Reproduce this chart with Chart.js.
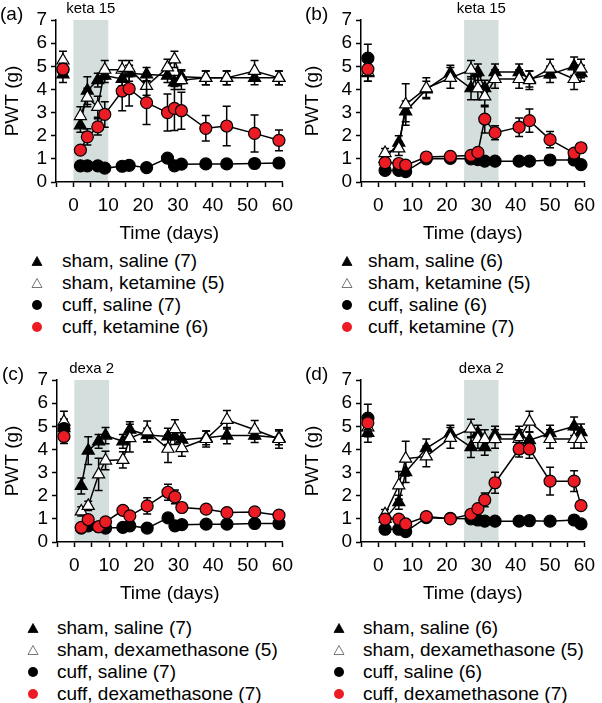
<!DOCTYPE html>
<html>
<head>
<meta charset="utf-8">
<script src="https://cdn.jsdelivr.net/npm/chart.js@4.4.1/dist/chart.umd.min.js"></script>
<style>
  body { margin: 0; width: 602px; height: 703px; background: #fff; position: relative; overflow: hidden;
         font-family: "Liberation Sans", Arial, sans-serif; color: #000; }
  .panel { position: absolute; }
  .legend { position: absolute; font-size: 19px; line-height: 22px; white-space: nowrap; }
  .legend .item { position: relative; height: 22px; }
  .legend svg { position: absolute; top: 5px; }
</style>
</head>
<body>
<canvas class="panel" id="chartA" width="300" height="245" style="left:0;top:0"></canvas>
<canvas class="panel" id="chartB" width="302" height="245" style="left:300px;top:0"></canvas>
<canvas class="panel" id="chartC" width="300" height="245" style="left:0;top:360px"></canvas>
<canvas class="panel" id="chartD" width="302" height="245" style="left:300px;top:360px"></canvas>
<div class="legend" id="legendA" style="left:31px;top:250px"></div>
<div class="legend" id="legendB" style="left:341px;top:250px"></div>
<div class="legend" id="legendC" style="left:27px;top:617px"></div>
<div class="legend" id="legendD" style="left:333px;top:617px"></div>
<script>
// ---- data ----
const daysAC = [-3, 2, 4, 7, 9, 14, 16, 21, 27, 29, 31, 38, 44, 52, 59];
const daysBD = [-3, 2, 6, 8, 14, 21, 27, 29, 31, 34, 41, 44, 50, 57, 59];
const xTickLabels = [0, 10, 20, 30, 40, 50, 60];
const yTickLabels = [0, 1, 2, 3, 4, 5, 6, 7];

// (a) keta 15, days 0-10
const shamSalA = [4.65, 2.45, 3.95, 4.4, 4.6, 4.45, 4.7, 4.65, 4.6, 4.3, 4.55, 4.5, 4.5, 4.5, 4.5];
const shamSalAErr = [0.35, 0.3, 0.6, 0.3, 0.3, 0.3, 0.35, 0.3, 0.3, 0.3, 0.3, 0.3, 0.3, 0.3, 0.3];
const shamKetA = [5.25, 2.85, 3.65, 3.25, 4.85, 4.85, 4.9, 4.15, 4.95, 5.3, 4.4, 4.5, 4.5, 4.8, 4.5];
const shamKetAErr = [0.4, 0.4, 0.4, 0.45, 0.4, 0.4, 0.35, 0.4, 0.35, 0.35, 0.4, 0.3, 0.3, 0.45, 0.3];
const cuffSalA = [4.85, 0.7, 0.7, 0.7, 0.6, 0.68, 0.72, 0.62, 1.03, 0.7, 0.77, 0.78, 0.78, 0.8, 0.82];
const cuffSalAErr = [0.2, 0.08, 0.08, 0.08, 0.08, 0.08, 0.08, 0.08, 0.1, 0.08, 0.08, 0.08, 0.08, 0.08, 0.08];
const cuffKetA = [4.88, 1.38, 1.95, 2.38, 2.92, 3.93, 4.03, 3.43, 3.0, 3.18, 3.08, 2.32, 2.42, 2.1, 1.8];
const cuffKetAErr = [0.25, 0.12, 0.35, 0.35, 0.55, 0.85, 0.75, 0.95, 0.8, 0.95, 0.8, 0.55, 0.85, 0.8, 0.45];

// (b) keta 15, days 25-35
const shamSalB = [4.7, 1.0, 1.7, 3.05, 4.0, 4.7, 4.05, 4.75, 4.05, 4.75, 4.75, 4.45, 4.65, 5.0, 4.7];
const shamSalBErr = [0.35, 0.2, 0.3, 0.45, 0.35, 0.35, 0.5, 0.35, 0.35, 0.35, 0.35, 0.35, 0.35, 0.4, 0.35];
const shamKetB = [4.75, 1.25, 1.45, 3.35, 4.05, 4.5, 4.85, 4.05, 3.7, 4.45, 4.45, 4.4, 4.9, 4.45, 4.9];
const shamKetBErr = [0.4, 0.2, 0.3, 0.9, 0.45, 0.45, 0.4, 0.5, 0.45, 0.4, 0.4, 0.4, 0.4, 0.45, 0.4];
const cuffSalB = [5.35, 0.5, 0.5, 0.45, 1.0, 1.02, 1.0, 0.97, 0.9, 0.9, 0.9, 0.9, 0.95, 0.95, 0.75];
const cuffSalBErr = [0.6, 0.1, 0.1, 0.1, 0.08, 0.08, 0.08, 0.08, 0.08, 0.08, 0.08, 0.08, 0.08, 0.08, 0.08];
const cuffKetB = [4.88, 0.84, 0.8, 0.73, 1.08, 1.11, 1.15, 1.28, 2.72, 2.13, 2.37, 2.65, 1.83, 1.25, 1.48];
const cuffKetBErr = [0.3, 0.1, 0.1, 0.1, 0.1, 0.1, 0.1, 0.15, 0.6, 0.3, 0.4, 0.5, 0.35, 0.12, 0.12];

// (c) dexa 2, days 0-10
const shamSalC = [4.92, 2.42, 3.95, 4.35, 4.6, 4.35, 4.85, 4.62, 4.56, 4.56, 4.42, 4.5, 4.6, 4.6, 4.5];
const shamSalCErr = [0.4, 0.35, 0.6, 0.3, 0.35, 0.3, 0.35, 0.3, 0.35, 0.35, 0.3, 0.3, 0.35, 0.3, 0.3];
const shamDexC = [5.2, 1.32, 1.56, 2.92, 3.52, 3.55, 4.49, 4.78, 4.03, 4.88, 4.06, 4.45, 5.28, 4.85, 4.45];
const shamDexCErr = [0.45, 0.2, 0.2, 0.7, 0.4, 0.35, 0.6, 0.45, 0.6, 0.4, 0.35, 0.35, 0.4, 0.4, 0.4];
const cuffSalC = [4.9, 0.6, 0.7, 0.66, 0.6, 0.63, 0.7, 0.6, 1.04, 0.7, 0.75, 0.77, 0.77, 0.8, 0.8];
const cuffSalCErr = [0.2, 0.08, 0.08, 0.08, 0.08, 0.08, 0.08, 0.08, 0.1, 0.08, 0.08, 0.08, 0.08, 0.08, 0.08];
const cuffDexC = [4.56, 0.63, 0.97, 0.66, 0.87, 1.37, 1.13, 1.56, 2.15, 1.95, 1.49, 1.42, 1.27, 1.3, 1.16];
const cuffDexCErr = [0.3, 0.1, 0.1, 0.1, 0.1, 0.12, 0.12, 0.35, 0.35, 0.3, 0.12, 0.1, 0.1, 0.1, 0.1];

// (d) dexa 2, days 25-35
const shamSalD = [4.71, 1.0, 1.72, 3.02, 4.05, 4.7, 4.1, 4.7, 4.1, 4.65, 4.65, 4.4, 4.7, 5.0, 4.75];
const shamSalDErr = [0.4, 0.2, 0.3, 0.45, 0.4, 0.35, 0.45, 0.35, 0.35, 0.35, 0.35, 0.35, 0.35, 0.4, 0.35];
const shamDexD = [4.95, 1.2, 2.45, 3.6, 3.7, 4.5, 4.9, 4.45, 4.45, 4.45, 4.45, 5.2, 4.45, 4.45, 4.45];
const shamDexDErr = [0.4, 0.2, 0.6, 0.75, 0.45, 0.45, 0.4, 0.4, 0.4, 0.4, 0.4, 0.45, 0.4, 0.4, 0.4];
const cuffSalD = [5.35, 0.55, 0.55, 0.45, 1.05, 1.02, 1.0, 0.95, 0.9, 0.9, 0.9, 0.92, 0.9, 0.95, 0.78];
const cuffSalDErr = [0.6, 0.1, 0.1, 0.1, 0.08, 0.08, 0.08, 0.08, 0.08, 0.08, 0.08, 0.08, 0.08, 0.08, 0.08];
const cuffDexD = [5.15, 0.99, 0.99, 0.78, 1.1, 1.0, 1.2, 1.44, 1.82, 2.56, 4.02, 4.02, 2.63, 2.63, 1.57];
const cuffDexDErr = [0.3, 0.1, 0.1, 0.1, 0.1, 0.1, 0.1, 0.15, 0.3, 0.45, 0.35, 0.4, 0.6, 0.45, 0.12];

const legendA = ['sham, saline (7)', 'sham, ketamine (5)', 'cuff, saline (7)', 'cuff, ketamine (6)'];
const legendB = ['sham, saline (6)', 'sham, ketamine (5)', 'cuff, saline (6)', 'cuff, ketamine (7)'];
const legendC = ['sham, saline (7)', 'sham, dexamethasone (5)', 'cuff, saline (7)', 'cuff, dexamethasone (7)'];
const legendD = ['sham, saline (6)', 'sham, dexamethasone (5)', 'cuff, saline (6)', 'cuff, dexamethasone (7)'];

// ---- styling ----
const FONT = '"Liberation Sans", Arial, Helvetica, sans-serif';
const RED = '#ec1c24';
const SHADE = '#d4dedd';

// marker look for the 4 groups: filled tri, open tri, black dot, red dot
const groupStyles = [
  { pointStyle: 'triangle', radius: 7, fill: '#000', order: 3 },
  { pointStyle: 'triangle', radius: 7, fill: '#fff', order: 2 },
  { pointStyle: 'circle', radius: 6, fill: '#000', order: 1 },
  { pointStyle: 'circle', radius: 6, fill: RED, order: 0 }
];

// shaded treatment window (drawn under the axes)
const shadePlugin = {
  id: 'shade',
  beforeDraw(chart, args, o) {
    const { ctx, chartArea, scales: { x } } = chart;
    const x0 = x.getPixelForValue(o.from), x1 = x.getPixelForValue(o.to);
    ctx.save();
    ctx.fillStyle = SHADE;
    ctx.fillRect(x0, chartArea.top, x1 - x0, chartArea.bottom - chartArea.top);
    ctx.restore();
  },
  afterDraw(chart, args, o) {
    const { ctx, chartArea, scales: { x } } = chart;
    const x0 = x.getPixelForValue(o.from), x1 = x.getPixelForValue(o.to);
    ctx.save();
    ctx.fillStyle = '#000';
    ctx.textBaseline = 'middle';
    ctx.textAlign = 'center';
    ctx.font = '15px ' + FONT;
    ctx.fillText(o.label, (x0 + x1) / 2, chartArea.top - 11);
    ctx.textAlign = 'left';
    ctx.font = '19px ' + FONT;
    ctx.fillText(o.letter, o.letterX, 15);
    ctx.restore();
  }
};

// vertical SEM bars, drawn just before each dataset's own marks
const errorBarPlugin = {
  id: 'errorBars',
  beforeDatasetDraw(chart, args) {
    const ds = chart.data.datasets[args.index];
    if (!ds.errors) return;
    const { ctx, scales: { y } } = chart;
    ctx.save();
    ctx.strokeStyle = '#000';
    ctx.lineWidth = 1.5;
    args.meta.data.forEach((pt, i) => {
      const v = ds.data[i].y, e = ds.errors[i];
      const yTop = y.getPixelForValue(v + e), yBot = y.getPixelForValue(v - e);
      ctx.beginPath();
      ctx.moveTo(pt.x, yTop); ctx.lineTo(pt.x, yBot);
      ctx.moveTo(pt.x - 4, yTop); ctx.lineTo(pt.x + 4, yTop);
      ctx.moveTo(pt.x - 4, yBot); ctx.lineTo(pt.x + 4, yBot);
      ctx.stroke();
    });
    ctx.restore();
  }
};

function makePanel(id, days, series, errors, shade, leftW, rightPad) {
  const datasets = series.map((vals, k) => {
    const st = groupStyles[k];
    return {
      data: days.map((d, i) => ({ x: d, y: vals[i] })),
      errors: errors[k],
      order: st.order,
      borderColor: '#000',
      borderWidth: 1.5,
      // the pre-surgery baseline is not joined to the first post-surgery point
      segment: { borderColor: c => c.p0DataIndex === 0 ? 'rgba(0,0,0,0)' : '#000' },
      pointStyle: st.pointStyle,
      pointRadius: st.radius,
      pointBackgroundColor: st.fill,
      pointBorderColor: '#000',
      pointBorderWidth: 1.2,
      tension: 0,
      clip: false
    };
  });

  new Chart(document.getElementById(id), {
    type: 'line',
    data: { datasets },
    options: {
      responsive: false,
      animation: false,
      layout: { padding: { top: 20, right: rightPad, left: 0, bottom: 0 } },
      plugins: {
        legend: { display: false },
        tooltip: { enabled: false },
        shade
      },
      scales: {
        x: {
          type: 'linear',
          min: -5, max: 60,
          afterFit: s => { s.height = 63; },
          border: { color: '#000', width: 1.5 },
          grid: { drawOnChartArea: false, tickLength: 5, tickColor: '#000', tickWidth: 1.5 },
          ticks: {
            stepSize: 5, padding: 7, color: '#000', maxRotation: 0, autoSkip: false,
            font: { family: FONT, size: 19 },
            callback: v => xTickLabels.includes(v) ? String(v) : ''
          },
          title: { display: true, text: 'Time (days)', color: '#000', padding: 0,
                   font: { family: FONT, size: 19 } }
        },
        y: {
          min: 0, max: 7,
          afterFit: s => { s.width = leftW; },
          border: { color: '#000', width: 1.5 },
          grid: { drawOnChartArea: false, tickLength: 5, tickColor: '#000', tickWidth: 1.5 },
          ticks: {
            stepSize: 1, padding: 4, color: '#000', autoSkip: false,
            font: { family: FONT, size: 19 },
            callback: v => yTickLabels.includes(v) ? String(v) : ''
          },
          title: { display: true, text: 'PWT (g)', color: '#000', padding: { top: 1, bottom: 0 },
                   font: { family: FONT, size: 19 } }
        }
      }
    },
    plugins: [shadePlugin, errorBarPlugin]
  });
}

function symbolSvg(k) {
  const st = groupStyles[k];
  if (st.pointStyle === 'triangle') {
    const stroke = st.fill === '#fff' ? '#555' : '#000';
    return `<svg width="12" height="12" viewBox="0 0 12 12"><polygon points="6,1.5 11,10.5 1,10.5" fill="${st.fill}" stroke="${stroke}" stroke-width="0.8"/></svg>`;
  }
  return `<svg width="12" height="12" viewBox="0 0 12 12"><circle cx="6" cy="6" r="5" fill="${st.fill}"/></svg>`;
}

function makeLegend(id, labels, textX) {
  const el = document.getElementById(id);
  el.innerHTML = labels.map((t, k) =>
    `<div class="item">${symbolSvg(k)}<span style="position:absolute;left:${textX}px;top:0">${t}</span></div>`
  ).join('');
}

makePanel('chartA', daysAC, [shamSalA, shamKetA, cuffSalA, cuffKetA],
  [shamSalAErr, shamKetAErr, cuffSalAErr, cuffKetAErr],
  { from: 0, to: 10, label: 'keta 15', letter: '(a)', letterX: 0 }, 56, 17);
makePanel('chartB', daysBD, [shamSalB, shamKetB, cuffSalB, cuffKetB],
  [shamSalBErr, shamKetBErr, cuffSalBErr, cuffKetBErr],
  { from: 25, to: 35, label: 'keta 15', letter: '(b)', letterX: 5 }, 61, 13);
makePanel('chartC', daysAC, [shamSalC, shamDexC, cuffSalC, cuffDexC],
  [shamSalCErr, shamDexCErr, cuffSalCErr, cuffDexCErr],
  { from: 0, to: 10, label: 'dexa 2', letter: '(c)', letterX: 2 }, 57, 17);
makePanel('chartD', daysBD, [shamSalD, shamDexD, cuffSalD, cuffDexD],
  [shamSalDErr, shamDexDErr, cuffSalDErr, cuffDexDErr],
  { from: 25, to: 35, label: 'dexa 2', letter: '(d)', letterX: 5 }, 61, 13);

makeLegend('legendA', legendA, 31);
makeLegend('legendB', legendB, 27);
makeLegend('legendC', legendC, 30);
makeLegend('legendD', legendD, 30);
</script>
</body>
</html>
